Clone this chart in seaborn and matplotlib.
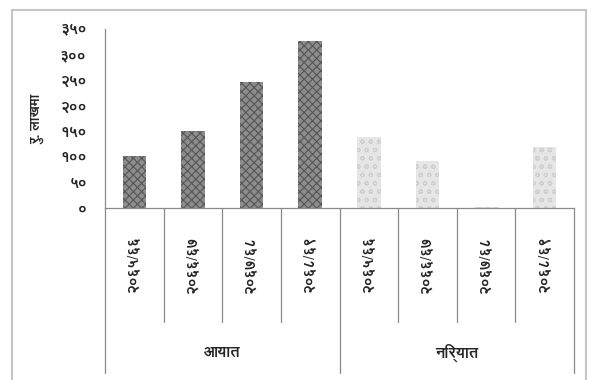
import matplotlib
matplotlib.use("Agg")
import matplotlib.pyplot as plt
import matplotlib.transforms as mtransforms
from matplotlib import font_manager
from matplotlib.patches import Rectangle
import pandas as pd
import seaborn as sns

# Trade values (Rs. in lakhs) by fiscal year
periods = ["२०६५/६६", "२०६६/६७", "२०६७/६८", "२०६८/६९"]
groups = ["आयात", "निर्यात"]
import_vals = [102, 150, 246, 327]
export_vals = [139, 92, 1, 120]
ytick_vals = [0, 50, 100, 150, 200, 250, 300, 350]
ytick_labels = ["०", "५०", "१००", "१५०", "२००", "२५०", "३००", "३५०"]
ylabel = "रु. लाखमा"


def pick_family(candidates):
    installed = {f.name for f in font_manager.fontManager.ttflist}
    for c in candidates:
        if c in installed:
            return c
    return None


sns.set_style("white")
fam = pick_family(["FreeSans", "Noto Sans Devanagari", "Hind", "Mukta"])
plt.rcParams["font.family"] = ([fam] if fam else []) + ["DejaVu Sans"]
plt.rcParams["hatch.linewidth"] = 0.8

W, H = 591, 380
fig = plt.figure(figsize=(W / 100, H / 100), dpi=100)
fig.patch.set_facecolor("white")

# axes box in pixels: x 105..574, y 29..208
ax = fig.add_axes([105 / W, 1 - 208 / H, (574 - 105) / W, (208 - 29) / H])

slots = [f"{g}|{p}" for g in groups for p in periods]
df = pd.DataFrame({
    "slot": slots,
    "group": [g for g in groups for _ in periods],
    "value": import_vals + export_vals,
})

sns.barplot(data=df, x="slot", y="value", hue="group", order=slots,
            hue_order=groups, dodge=False, width=0.4, legend=False,
            palette=["#858585", "#e6e6e6"], ax=ax)

# textured fills
for patch, g in zip(ax.patches, df["group"]):
    if g == groups[0]:
        patch.set_facecolor("#8c8c8c")
        patch.set_edgecolor("#555555")
        patch.set_hatch("xxxx")
    else:
        patch.set_facecolor("#e6e6e6")
        patch.set_edgecolor("#cfcfcf")
        patch.set_hatch("oo")
    patch.set_linewidth(0)

ax.set_xlim(-0.5, len(slots) - 0.5)
ax.set_ylim(0, 350)
ax.set_yticks(ytick_vals)
ax.set_yticklabels(ytick_labels, fontsize=11, fontweight="bold")
ax.set_xticks([])
ax.set_xlabel("")
ax.set_ylabel(ylabel, fontsize=10, fontweight="bold", labelpad=12)
ax.tick_params(axis="y", length=4, width=0.8, color="#8a8a8a", pad=9)
for side in ("top", "right"):
    ax.spines[side].set_visible(False)
for side in ("left", "bottom"):
    ax.spines[side].set_color("#8a8a8a")
    ax.spines[side].set_linewidth(0.9)

# category axis below the plot: dividers, rotated period labels, group names
trans = mtransforms.blended_transform_factory(ax.transData, fig.transFigure)


def fy(px):
    return 1 - px / H


n = len(periods)
for i in range(len(slots) + 1):
    xb = i - 0.5
    outer = (i % n == 0)
    y_end = 373 if outer else 322
    ax.plot([xb, xb], [fy(208), fy(y_end)], transform=trans, color="#8a8a8a",
            lw=0.9, clip_on=False)

for i, s in enumerate(slots):
    ax.text(i, fy(265), s.split("|")[1], transform=trans, rotation=90,
            ha="center", va="center", fontsize=11, fontweight="bold")

for gi, g in enumerate(groups):
    ax.text(gi * n + (n - 1) / 2, fy(353), g, transform=trans, ha="center",
            va="center", fontsize=11, fontweight="bold")

# light frame around the chart area
fig.patches.append(Rectangle((12 / W, fy(384)), (586 - 12) / W, (384 - 10) / H,
                             transform=fig.transFigure, fill=False,
                             edgecolor="#c6c6c6", lw=1.5))

fig.savefig("out.png", dpi=100, facecolor="white")
